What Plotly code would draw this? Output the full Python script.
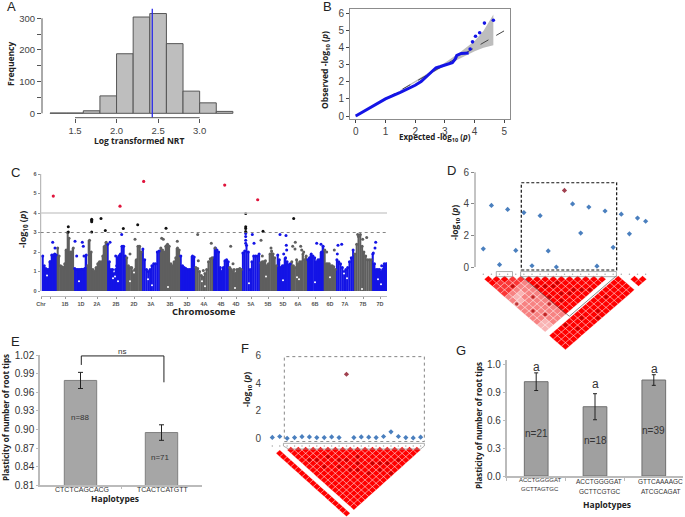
import plotly.graph_objects as go

W, H = 685, 517
# ---------- data ----------
HIST_EDGES = [1.2, 1.4, 1.6, 1.8, 2.0, 2.2, 2.4, 2.6, 2.8, 3.0, 3.2, 3.4]
HIST_COUNTS = [1, 1, 8, 55, 188, 304, 315, 220, 70, 33, 6]
HIST_MEAN = 2.43

QQ_X = [0, 0.5, 1, 1.5, 2, 2.2, 2.5, 2.7, 2.85, 3.0, 3.25, 3.35, 3.4, 3.55, 3.8]
QQ_Y = [0, 0.5, 1.0, 1.38, 1.8, 2.02, 2.5, 2.83, 2.9, 3.0, 3.12, 3.35, 3.55, 3.67, 3.7]
QQ_TAIL_X = [3.85, 3.93, 4.03, 4.17, 4.33, 4.63]
QQ_TAIL_Y = [3.93, 4.35, 4.68, 4.88, 5.45, 5.62]
CI_X = [1.5, 2, 3, 3.5, 4, 4.3, 4.63, 4.63, 4.3, 4, 3.5, 3, 2, 1.5]
CI_Y = [1.52, 2.06, 3.12, 3.72, 4.4, 5.0, 5.95, 4.15, 4.0, 3.8, 3.38, 2.93, 1.97, 1.49]

CHR_EDGES = [42, 57, 74, 87, 107, 126, 142, 160, 180, 195, 213, 229, 242, 260, 277, 291, 307, 324, 336, 354, 372, 387]
CHR_TICKS = [41, 65, 81, 97, 116, 134, 151, 170, 187, 204, 221, 236, 251, 268, 283, 298, 315, 330, 345, 363, 380]
CHR_LABELS = ["Chr", "1B", "1D", "2A", "2B", "2D", "3A", "3B", "3D", "4A", "4B", "4D", "5A", "5B", "5D", "6A", "6B", "6D", "7A", "7B", "7D"]
CHR_MINOR = [50]
CHR_TOPS = [
    [1.8, 1.3, 1.15, 1.1, 1.1, 1.5, 1.85, 1.85, 1.9, 1.85],
    [2.2, 1.8, 1.3, 1.25, 1.2, 1.4, 2.1, 3.0, 2.7, 2.0, 2.0, 2.2],
    [1.15, 1.1, 1.1, 1.1, 1.1, 1.12, 1.1, 1.15, 1.85],
    [1.3, 2.6, 2.0, 1.1, 1.0, 1.2, 1.4, 1.5, 1.5, 1.8, 2.3, 2.5],
    [2.4, 1.5, 1.1, 1.1, 0.9, 1.1, 1.7, 1.8, 1.9, 2.3, 2.3, 1.8],
    [1.7, 1.3, 1.2, 1.2, 1.0, 1.1, 1.6, 2.3, 2.3, 2.0],
    [2.15, 1.6, 1.1, 1.0, 1.1, 1.3, 1.4, 1.4, 2.0, 2.05],
    [2.2, 2.1, 2.0, 2.3, 2.4, 2.3, 1.4, 1.3, 1.5, 1.7, 2.2, 2.1],
    [1.8, 1.3, 1.2, 1.15, 1.1, 1.1, 1.1, 1.8, 1.75],
    [1.2, 1.15, 1.0, 0.8, 0.7, 0.9, 1.1, 1.5, 1.65, 1.7],
    [1.7, 2.2, 2.1, 2.0, 1.2, 1.0, 1.2, 1.55, 1.6, 1.5],
    [1.2, 1.1, 1.0, 1.1, 0.9, 1.1, 1.1, 1.15, 1.1],
    [1.95, 2.05, 2.35, 2.0, 1.1, 1.5, 1.8, 1.8, 1.8, 1.9],
    [1.45, 1.5, 1.5, 1.55, 1.3, 1.4, 1.9, 2.05, 1.9, 1.7, 1.3],
    [1.85, 1.6, 1.2, 1.3, 1.3, 1.7, 1.5, 1.35, 1.4],
    [1.5, 1.3, 1.2, 1.6, 1.4, 1.5, 1.5, 1.9, 1.6, 1.8],
    [1.6, 1.7, 1.9, 1.8, 1.7, 1.5, 1.6, 1.6, 2.0, 2.3],
    [2.1, 1.4, 1.4, 1.4, 1.3, 1.3, 1.25, 1.1],
    [1.6, 1.5, 1.4, 1.2, 1.0, 1.1, 1.2, 1.5, 1.7, 2.1],
    [1.9, 2.4, 2.8, 2.9, 2.3, 2.0, 1.8, 1.6, 1.6, 1.6],
    [1.9, 1.4, 1.1, 1.1, 1.1, 1.0, 1.1, 1.3, 1.4],
]
BLUE_DOT_X = [52.7, 55, 50, 75, 76.7, 82.3, 83.3, 84, 110, 115.7, 116.7, 121.7, 245.7, 245.7, 245.7, 245.7, 252.3, 254, 280, 283.7, 286, 286.3, 286.7, 316.7, 321, 337.3, 338, 341.7, 373.3, 375, 375.7, 381.7, 384.3]
BLUE_DOT_Y = [2.5, 2.2, 1.5, 2.55, 1.8, 2.5, 2.3, 1.8, 2.5, 1.8, 1.3, 2.9, 2.45, 2.6, 2.8, 2.95, 2.9, 2.45, 2.9, 1.9, 2.85, 2.35, 2.1, 2.45, 2.4, 1.9, 2.35, 2.4, 1.95, 2.2, 2.5, 1.3, 1.4]
GRAY_DOT_X = [135, 130, 161.7, 163.3, 177.3, 197.7, 198.3, 203.3, 211.3, 215, 230.7, 233, 261, 262.3, 271, 292.7, 295.3, 295, 300.7, 301.7, 303.7, 326.7, 334.3, 362.7, 366.7, 357.7]
GRAY_DOT_Y = [2.65, 1.9, 2.7, 2.65, 2.55, 2.9, 1.55, 1.05, 2.45, 2.2, 2.3, 1.4, 2.6, 1.8, 2.2, 2.3, 2.5, 2.15, 2.3, 2.1, 2.0, 2.0, 2.1, 2.65, 2.75, 2.9]
RED_X = [53.3, 120, 143.7, 224.7, 257.7]
RED_Y = [4.87, 4.35, 5.62, 5.43, 4.68]
BLACK_X = [68.3, 68.3, 91.7, 91.7, 91.7, 91.7, 101, 105.3, 123.3, 137.7, 166, 245.7, 245.7, 245.7, 245.7, 263, 293.7]
BLACK_Y = [3.3, 3.03, 3.03, 3.55, 3.62, 3.68, 3.72, 3.1, 3.2, 3.4, 3.22, 3.05, 3.2, 3.3, 3.98, 3.07, 3.72]
HOLE_X = [47, 79, 113, 115, 118, 130, 134, 148, 152, 168, 202, 205, 235, 249, 266, 283, 297, 299, 315, 330, 344, 347, 362, 378, 381]
HOLE_Y = [0.8, 0.5, 0.65, 0.75, 0.5, 0.5, 0.95, 0.6, 0.3, 0.2, 0.5, 0.25, 0.15, 0.4, 0.75, 0.55, 0.7, 0.6, 0.45, 0.7, 0.9, 0.65, 0.1, 0.6, 0.35]

D_P = [1.15, 3.9, 0.15, 3.65, 1.05, 3.45, 0.08, 3.25, 1.02, 0.0, 4.85, 4.0, 2.15, 3.8, 0.05, 3.55, 1.25, 3.35, 2.1, 3.1, 2.9]
D_LEAD = 10
# LD levels for SNP pairs (i, j), j = i+1 .. 15, 0 = strong red ... 3 = pale
D_LD = [
    [0, 0, 1, 1, 1, 2, 2, 3, 2, 2, 2, 2, 2, 3, 3],
    [0, 1, 1, 1, 2, 3, 3, 2, 2, 2, 2, 2, 3, 3],
    [0, 1, 1, 2, 3, 2, 2, 2, 2, 2, 2, 2, 2],
    [1, 1, 2, 2, 2, 2, 2, 2, 2, 2, 2, 2],
    [1, 2, 2, 2, 2, 2, 2, 2, 2, 2, 2],
    [0, 0, 0, 0, 0, 0, 0, 0, 0, 0],
    [0, 0, 0, 0, 0, 0, 0, 0, 0],
    [0, 0, 0, 0, 0, 0, 0, 0],
    [0, 0, 0, 0, 0, 0, 0],
    [0, 0, 0, 0, 0, 0],
    [0, 0, 0, 0, 0],
    [0, 0, 0, 0],
    [0, 0, 0],
    [0, 0],
    [0],
]
D_BAND_I = list(range(0, 17))
D_BAND_J = [17, 18, 19, 20]
D_EXTRA = [(18, 19), (19, 20), (18, 20)]
D_DARK = [(6, 9), (7, 12), (8, 10), (9, 13), (5, 11), (6, 13), (10, 14), (2, 5), (7, 10), (11, 15), (3, 17), (6, 18), (9, 19), (4, 19), (12, 18), (8, 20), (5, 8), (8, 13), (0, 8), (1, 11), (2, 13), (3, 9), (4, 12)]
SNP_IDX = list(range(21))

F_P = [0.06, 0.13, 0.0, 0.05, 0.12, 0.1, 0.05, 0.05, 0.1, 0.05, 4.65, 0.05, 0.1, 0.08, 0.05, 0.13, 0.47, 0.13, 0.05, 0.03, 0.08]
F_LEAD = 10
F_DARK = [(3, 7), (4, 8), (4, 10), (6, 9), (6, 12), (7, 11), (7, 14), (8, 12), (8, 15), (9, 14), (9, 17), (11, 16), (10, 13), (12, 17), (13, 18), (15, 19), (11, 18), (12, 20)]

E_CATS = ["CTCTCAGCACG", "TCACTCATGTT"]
E_VALS = [0.979, 0.895]
E_ERR = [0.013, 0.0125]
E_N = ["n=88", "n=71"]
E_TICKS = [0.81, 0.84, 0.87, 0.90, 0.93, 0.96, 0.99, 1.02]

G_LINE1 = ["ACCTGGGGAT", "ACCTGGGGAT", "GTTCAAAAGC"]
G_LINE2 = ["GCTTAGTGC", "GCTTCGTGC", "ATCGCAGAT"]
G_VALS = [1.014, 0.745, 1.032]
G_ERR = [0.095, 0.14, 0.057]
G_N = ["n=21", "n=18", "n=39"]
G_TICKV = [0, 0.3, 0.6, 0.9, 1.2]
G_TICKT = ["0.0", "0.3", "0.6", "0.9", "1.0"]

# ---------- helpers ----------
SANS = "Liberation Sans"
NARROW = "Liberation Sans Narrow, Liberation Sans"
BOLD = "Open Sans"
TICK = "#444444"
fig = go.Figure()
shapes, notes = [], []
layout = {}


def span(p0, v0, per, a, b):
    """axis range for pixel span a..b, value v0 at pixel p0, per pixels per unit"""
    return [v0 + (a - p0) / per, v0 + (b - p0) / per]


def xax(n, l, r, rng, anchor, **kw):
    layout["xaxis" + ("" if n == 1 else str(n))] = dict(domain=[l / W, r / W], range=rng, anchor=anchor, showgrid=False, zeroline=False, automargin=False, **kw)


def yax(n, t, b, rng, anchor, **kw):
    layout["yaxis" + ("" if n == 1 else str(n))] = dict(domain=[1 - b / H, 1 - t / H], range=rng, anchor=anchor, showgrid=False, zeroline=False, automargin=False, **kw)


def text(px, py, s, size=9, bold=False, rot=0, color="#222222", family=None, xanchor="center"):
    notes.append(dict(x=px / W, y=1 - py / H, xref="paper", yref="paper", text=s, showarrow=False, textangle=rot,
                      xanchor=xanchor, yanchor="middle",
                      font=dict(size=size, color=color, family=family or (BOLD if bold else SANS), weight=700 if bold else 400)))


def seg(xref, yref, x0, y0, x1, y1, color, width=1, dash=None):
    shapes.append(dict(type="line", xref=xref, yref=yref, x0=x0, y0=y0, x1=x1, y1=y1, line=dict(color=color, width=width, dash=dash), layer="above"))


def tf(size=9.5, color=TICK):
    return dict(family=SANS, size=size, color=color)


def ld_polys(cells, k0):
    xs, ys = [], []
    for i, j in cells:
        cx = k0 + (i + j) / 2
        row = j - i - 1
        xs += [cx - 0.5, cx, cx + 0.5, cx, cx - 0.5, None]
        ys += [row, row - 1, row, row + 1, row, None]
    return xs, ys


def ld_trace(cells, k0, color, xa, ya):
    xs, ys = ld_polys(cells, k0)
    return go.Scatter(x=xs, y=ys, xaxis=xa, yaxis=ya, mode="lines", fill="toself", fillcolor=color,
                      line=dict(color="rgba(255,255,255,0.6)", width=0.5), hoverinfo="skip", showlegend=False)


def dark_trace(cells, k0, xa, ya):
    return go.Scatter(x=[k0 + (i + j) / 2 for i, j in cells], y=[j - i - 1 for i, j in cells], xaxis=xa, yaxis=ya,
                      mode="markers", marker=dict(size=3.5, color="#a80000", opacity=0.7), hoverinfo="skip", showlegend=False)


# ---------- A histogram ----------
mids = [(a + b) / 2 for a, b in zip(HIST_EDGES[:-1], HIST_EDGES[1:])]
fig.add_trace(go.Bar(x=mids, y=HIST_COUNTS, width=0.2, marker=dict(color="#bebebe", line=dict(color="#555555", width=1)), xaxis="x", yaxis="y", showlegend=False))
fig.add_trace(go.Scatter(x=[HIST_MEAN, HIST_MEAN], y=[-14, 330], mode="lines", line=dict(color="#2a2ae8", width=1.3), xaxis="x", yaxis="y", showlegend=False))
xax(1, 42, 240, span(75, 1.5, 83.1, 42, 240), "y", tickvals=[1.5, 2, 2.5, 3], ticktext=["1.5", "2.0", "2.5", "3.0"], ticks="outside", ticklen=4, tickcolor="#555555", tickfont=tf())
yax(1, 8, 117.7, span(113.3, 0, -0.3167, 8, 117.7)[::-1], "x", tickvals=[0, 100, 200, 300], ticks="outside", ticklen=4, tickcolor="#555555", tickfont=tf(),
    minor=dict(tickvals=[50, 150, 250], ticks="outside", ticklen=4, tickcolor="#555555"))
seg("x domain", "y", 0, 0, 0, 300, "#555555")
seg("x", "y domain", 1.5, 0, 3.0, 0, "#555555")
text(11, 7, "A", 13)
text(11, 64, "Frequency", 8.5, True, -90)
text(139, 140, "Log transformed NRT", 8.5, True)

# ---------- B QQ ----------
fig.add_trace(go.Scatter(x=CI_X, y=CI_Y, mode="lines", fill="toself", fillcolor="#bdbdbd", line=dict(width=0), xaxis="x2", yaxis="y2", showlegend=False, hoverinfo="skip"))
fig.add_trace(go.Scatter(x=[0, 5.3], y=[0, 5.3], mode="lines", line=dict(color="#444444", width=1, dash="dash"), xaxis="x2", yaxis="y2", showlegend=False))
fig.add_trace(go.Scatter(x=QQ_X, y=QQ_Y, mode="lines", line=dict(color="#1414e6", width=3), xaxis="x2", yaxis="y2", showlegend=False))
fig.add_trace(go.Scatter(x=QQ_TAIL_X, y=QQ_TAIL_Y, mode="markers", marker=dict(color="#1414e6", size=3.6), xaxis="x2", yaxis="y2", showlegend=False))
frame = dict(showline=True, mirror=True, linecolor="#8c8c8c", linewidth=1, ticks="outside", ticklen=3, tickcolor="#444444")
xax(2, 350, 510, span(355.7, 0, 29.73, 350, 510), "y2", tickvals=[0, 1, 2, 3, 4, 5], tickfont=tf(10), **frame)
yax(2, 9.3, 119.3, span(116, 0, -17.05, 9.3, 119.3)[::-1], "x2", tickvals=[0, 1, 2, 3, 4, 5, 6], tickfont=tf(10), **frame)
text(327, 6, "B", 13)
text(325, 70, "Observed -log<sub>10</sub> (<i>p</i>)", 8.5, True, -90)
text(435, 138, "Expected -log<sub>10</sub> (<i>p</i>)", 8, True)

# ---------- C Manhattan ----------
for color, start in (("#1414e6", 0), ("#5f5f5f", 1)):
    bx, by, bw = [], [], []
    for c in range(start, len(CHR_TOPS), 2):
        tops = CHR_TOPS[c]
        a, b = CHR_EDGES[c], CHR_EDGES[c + 1]
        step = (b - a) / len(tops)
        for n, t in enumerate(tops):
            bx.append(a + (n + 0.5) * step)
            by.append(t)
            bw.append(step * 1.12)
    fig.add_trace(go.Bar(x=bx, y=by, width=bw, marker=dict(color=color, line=dict(width=0)), xaxis="x3", yaxis="y3", showlegend=False))
    fig.add_trace(go.Scatter(x=bx, y=by, mode="markers", marker=dict(color=color, size=3), xaxis="x3", yaxis="y3", showlegend=False))
fig.add_trace(go.Scatter(x=HOLE_X, y=HOLE_Y, mode="markers", marker=dict(color="white", size=2), xaxis="x3", yaxis="y3", showlegend=False))
fig.add_trace(go.Scatter(x=BLUE_DOT_X, y=BLUE_DOT_Y, mode="markers", marker=dict(color="#1414e6", size=3), xaxis="x3", yaxis="y3", showlegend=False))
fig.add_trace(go.Scatter(x=GRAY_DOT_X, y=GRAY_DOT_Y, mode="markers", marker=dict(color="#5f5f5f", size=3), xaxis="x3", yaxis="y3", showlegend=False))
fig.add_trace(go.Scatter(x=BLACK_X, y=BLACK_Y, mode="markers", marker=dict(color="#111111", size=3), xaxis="x3", yaxis="y3", showlegend=False))
fig.add_trace(go.Scatter(x=RED_X, y=RED_Y, mode="markers", marker=dict(color="#e0143c", size=3.2), xaxis="x3", yaxis="y3", showlegend=False))
xax(3, 40.7, 387, [40.7, 387], "y3", tickvals=CHR_TICKS, ticktext=CHR_LABELS, ticks="outside", ticklen=2, tickcolor="#999999", showline=True, linecolor="#bbbbbb", linewidth=1,
    tickfont=dict(family=SANS, size=5.5, color="#555555", weight=700), minor=dict(tickvals=CHR_MINOR, ticks="outside", ticklen=2, tickcolor="#999999"))
yax(3, 170, 296, span(291, 0, -19.5, 170, 296)[::-1], "x3", tickvals=[0, 1, 2, 3, 4, 5, 6], ticks="outside", ticklen=2, tickcolor="#999999",
    tickfont=dict(family=SANS, size=5.5, color="#555555", weight=700))
seg("x3 domain", "y3", 0, 0, 0, 6, "#aaaaaa")
seg("x3 domain", "y3", 0, 4, 1, 4, "#cfcfcf", 1.5)
seg("x3 domain", "y3", 0, 3, 1, 3, "#666666", 0.8, "dot")
text(16, 172, "C", 13)
text(23, 230, "-log<sub>10</sub> (<i>p</i>)", 9, True, -90)
text(204, 311, "Chromosome", 9.5, True)

# ---------- D regional + LD ----------
LEVELS = ["#ff0000", "#fb3636", "#f78282", "#f9b4b4"]
PT_BLUE = "#4a7fbe"
fig.add_trace(go.Scatter(x=list(range(len(D_P))), y=D_P, mode="markers", marker=dict(color=[("#a0404f" if k == D_LEAD else PT_BLUE) for k in range(len(D_P))], size=4, symbol="diamond"), xaxis="x4", yaxis="y4", showlegend=False))
xax(4, 475, 650, span(483.3, 0, 8.117, 475, 650), "y4", visible=False)
yax(4, 165, 275, span(267, 0, -15.78, 165, 275)[::-1], "x4", tickvals=[0, 2, 4, 6], ticks="outside", ticklen=3, tickcolor="#888888", tickfont=tf(10))
seg("x4 domain", "y4", 0, 0, 0, 6, "#888888")
shapes.append(dict(type="rect", xref="x4", yref="y4", x0=4.68, x1=16.43, y0=-0.19, y1=5.34, line=dict(color="#111111", width=1.2, dash="3px,2px"), layer="above"))
D_K0 = 0.12
cells_by_level = {0: [], 1: [], 2: [], 3: []}
for i, row in enumerate(D_LD):
    for n, lev in enumerate(row):
        cells_by_level[lev].append((i, i + 1 + n))
cells_by_level[0] += [(i, j) for i in D_BAND_I for j in D_BAND_J] + D_EXTRA
for lev in (3, 2, 1, 0):
    fig.add_trace(ld_trace(cells_by_level[lev], D_K0, LEVELS[lev], "x4", "y5"))
fig.add_trace(dark_trace(D_DARK, D_K0, "x4", "y5"))
fig.add_trace(go.Scatter(x=[4.6, 10.6, 16.4], y=[-1, 10.5, -1], mode="lines", line=dict(color="#555555", width=0.7), xaxis="x4", yaxis="y5", showlegend=False))
fig.add_trace(go.Scatter(x=SNP_IDX, y=[-1.4] * len(SNP_IDX), mode="markers", marker=dict(color="#aaaaaa", size=1.5), xaxis="x4", yaxis="y5", showlegend=False))
yax(5, 270, 350, span(279.3, 0, 3.52, 350, 270), "x4", visible=False)
layout["yaxis5"]["range"] = [(350 - 279.3) / 3.52, (270 - 279.3) / 3.52]
shapes.append(dict(type="rect", xref="x4", yref="y5", x0=1.6, x1=3.6, y0=-2.2, y1=-0.75, line=dict(color="#999999", width=0.8), layer="above"))
shapes.append(dict(type="rect", xref="x4", yref="y5", x0=4.6, x1=16.4, y0=-2.2, y1=-0.75, line=dict(color="#999999", width=0.8), layer="above"))
text(451, 171, "D", 13)
text(456, 223, "-log<sub>10</sub> (<i>p</i>)", 8.5, True, -90)

# ---------- F regional + LD ----------
fig.add_trace(go.Scatter(x=list(range(len(F_P))), y=F_P, mode="markers", marker=dict(color=[("#a0404f" if k == F_LEAD else PT_BLUE) for k in range(len(F_P))], size=4, symbol="diamond"), xaxis="x6", yaxis="y7", showlegend=False))
xax(6, 262, 430, span(272.3, 0, 7.417, 262, 430), "y7", visible=False)
yax(7, 350, 442, span(438.3, 0, -13.77, 350, 442)[::-1], "x6", tickvals=[0, 2, 4, 6], ticks="", tickfont=tf(10))
shapes.append(dict(type="rect", xref="x6", yref="y7", x0=1.62, x1=20.5, y0=-0.24, y1=5.93, line=dict(color="#777777", width=0.9, dash="dot"), layer="above"))
F_CELLS = [(0, j) for j in range(2, 21)] + [(i, j) for i in range(2, 21) for j in range(i + 1, 21)]
fig.add_trace(ld_trace(F_CELLS, 0, LEVELS[0], "x6", "y8"))
fig.add_trace(dark_trace(F_DARK, 0, "x6", "y8"))
fig.add_trace(go.Scatter(x=SNP_IDX, y=[-1.2] * len(SNP_IDX), mode="markers", marker=dict(color="#aaaaaa", size=1.5), xaxis="x6", yaxis="y8", showlegend=False))
layout["yaxis8"] = dict(domain=[1 - 517 / H, 1 - 440 / H], range=[(517 - 450) / 3.33, (440 - 450) / 3.33], anchor="x6", visible=False, automargin=False)
fig.add_trace(go.Scatter(x=[1.5, 1.5, 2.2, 20, 20.5, 20.5, 1.5], y=[-2, -1.2, -0.3, -0.3, -1.2, -2, -2], mode="lines", line=dict(color="#999999", width=0.8), xaxis="x6", yaxis="y8", showlegend=False))
text(245, 348, "F", 13)
text(247, 390, "-log<sub>10</sub> (<i>p</i>)", 8.5, True, -90)

# ---------- E bars ----------
axc = "#bbbbbb"
fig.add_trace(go.Bar(x=[0, 1], y=E_VALS, width=0.4, marker=dict(color="#a6a6a6", line=dict(color="#7f7f7f", width=1)),
                     error_y=dict(type="data", array=E_ERR, color="#222222", thickness=1, width=2.5), xaxis="x5", yaxis="y6", showlegend=False))
fig.add_trace(go.Scatter(x=[0.01, 0.01, 1.03, 1.03], y=[1.004, 1.0185, 1.0185, 0.976], mode="lines", line=dict(color="#222222", width=1), xaxis="x5", yaxis="y6", showlegend=False))
xax(5, 40, 201.7, span(80.5, 0, 81, 40, 201.7), "y6", tickvals=[0.5], showticklabels=False, ticks="outside", ticklen=2, tickcolor=axc, showline=True, linecolor=axc, linewidth=1.5)
yax(6, 355, 485.3, [0.81, 1.02], "x5", tickvals=E_TICKS, ticktext=["%.2f" % v for v in E_TICKS], ticks="outside", ticklen=2, tickcolor=axc, showline=True, linecolor=axc, linewidth=1.5, tickfont=tf(10, "#333333"))
text(81.7, 489, E_CATS[0], 7, color="#333333")
text(163, 490, E_CATS[1], 7, color="#333333")
text(80, 417, E_N[0], 8, color="#333333")
text(160, 457, E_N[1], 8, color="#333333")
text(122, 351, "ns", 8, color="#333333")
text(115, 498, "Haplotypes", 8.5, True)
text(5, 418, "Plasticity of number of root tips", 8, True, -90)
text(16, 341, "E", 13)

# ---------- G bars ----------
fig.add_trace(go.Bar(x=[0, 1, 2], y=G_VALS, width=0.403, marker=dict(color="#a0a0a0", line=dict(color="#6f6f6f", width=1)),
                     error_y=dict(type="data", array=G_ERR, color="#222222", thickness=1, width=2), xaxis="x7", yaxis="y9", showlegend=False))
xax(7, 506.7, 683, span(536.2, 0, 58.8, 506.7, 683), "y9", tickvals=[-0.5, 0.5, 1.5, 2.5], showticklabels=False, ticks="outside", ticklen=3, tickcolor=axc, showline=True, linecolor=axc, linewidth=1.5)
yax(9, 360, 476, span(476, 0, -93, 360, 476)[::-1], "x7", tickvals=G_TICKV, ticktext=G_TICKT, ticks="outside", ticklen=2, tickcolor=axc, showline=True, linecolor=axc, linewidth=1.5, tickfont=tf(10, "#333333"))
G_LX = [540, 599.3, 660.7]
G_NY = [433.3, 440, 430]
G_AY = [366.7, 384.3, 369.3]
for k in range(3):
    text(G_LX[k], 480 if k == 0 else 481.7, G_LINE1[k], 6 if k == 0 else 6.5, color="#333333")
    text(G_LX[k], 489 if k == 0 else 491.5, G_LINE2[k], 6 if k == 0 else 6.5, color="#333333")
    text(536.2 + 58.8 * k, G_NY[k], G_N[k], 10, color="#333333", family=NARROW)
    text(536 + 59 * k, G_AY[k], "a", 12, color="#333333", family=NARROW)
text(607, 504, "Haplotypes", 8.5, True)
text(478, 425, "Plasticity of number of root tips", 8, True, -90)
text(461, 350, "G", 13)

fig.update_layout(width=W, height=H, margin=dict(l=0, r=0, t=0, b=0, autoexpand=False), paper_bgcolor="white", plot_bgcolor="rgba(0,0,0,0)",
                  barmode="overlay", showlegend=False, shapes=shapes, annotations=notes, font=dict(family=SANS), **layout)
fig.write_html("out.html", config={"displayModeBar": False}, post_script="document.body.style.margin='0';document.documentElement.style.overflow='hidden';")
